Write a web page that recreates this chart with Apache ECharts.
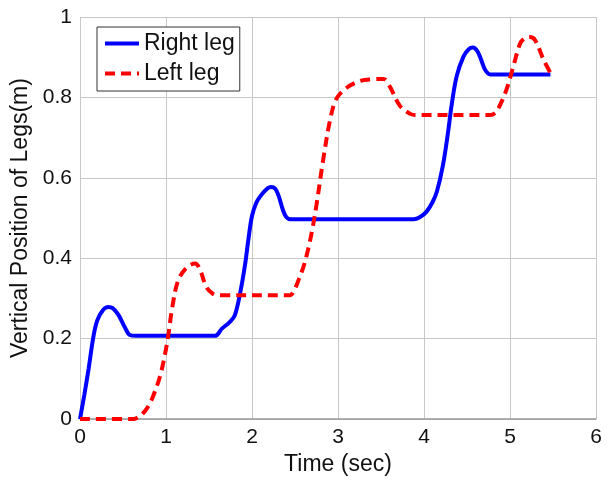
<!DOCTYPE html>
<html>
<head>
<meta charset="utf-8">
<script src="https://cdn.jsdelivr.net/npm/echarts@6/dist/echarts.min.js"></script>
<style>
  html, body { margin: 0; padding: 0; background: #fff; }
  #chart { width: 611px; height: 481px; }
</style>
</head>
<body>
<div id="chart"></div>
<script>
// Vertical foot trajectories over one gait sequence
const rightTime = [0, 0.05, 0.1, 0.155, 0.2, 0.27, 0.33, 0.38, 0.445, 0.52, 0.58, 0.65, 1.0, 1.57, 1.65, 1.74, 1.8, 1.86, 1.92, 1.96, 2.0, 2.05, 2.1, 2.16, 2.22, 2.27, 2.31, 2.36, 2.40, 2.45, 3.0, 3.88, 3.95, 4.03, 4.1, 4.15, 4.22, 4.28, 4.32, 4.38, 4.46, 4.52, 4.57, 4.62, 4.66, 4.71, 4.77, 5.0, 5.47];
const rightPos  = [0, 0.06, 0.125, 0.204, 0.245, 0.272, 0.279, 0.276, 0.26, 0.229, 0.209, 0.207, 0.207, 0.207, 0.225, 0.241, 0.258, 0.311, 0.385, 0.45, 0.505, 0.538, 0.555, 0.57, 0.577, 0.573, 0.555, 0.52, 0.502, 0.497, 0.497, 0.497, 0.502, 0.516, 0.54, 0.566, 0.631, 0.714, 0.779, 0.853, 0.902, 0.92, 0.924, 0.915, 0.896, 0.869, 0.857, 0.857, 0.857];

const leftTime = [0, 0.62, 0.68, 0.74, 0.8, 0.85, 0.93, 0.99, 1.03, 1.07, 1.14, 1.24, 1.34, 1.40, 1.47, 1.55, 1.6, 2.44, 2.49, 2.54, 2.6, 2.65, 2.7, 2.75, 2.83, 2.91, 2.98, 3.10, 3.26, 3.40, 3.53, 3.60, 3.72, 3.84, 3.9, 4.77, 4.83, 4.88, 4.96, 5.04, 5.12, 5.18, 5.23, 5.29, 5.39, 5.47];
const leftPos  = [0, 0, 0.005, 0.016, 0.034, 0.057, 0.106, 0.163, 0.213, 0.274, 0.344, 0.377, 0.387, 0.369, 0.328, 0.311, 0.308, 0.308, 0.32, 0.345, 0.38, 0.42, 0.47, 0.533, 0.648, 0.746, 0.796, 0.824, 0.841, 0.845, 0.846, 0.828, 0.779, 0.759, 0.756, 0.756, 0.762, 0.779, 0.820, 0.878, 0.935, 0.948, 0.950, 0.943, 0.894, 0.861];

const seriesNames = ['Right leg', 'Left leg'];
const xTitle = 'Time (sec)';
const yTitle = 'Vertical Position of Legs(m)';

const pairs = (xs, ys) => xs.map((x, i) => [x, ys[i]]);
const FONT = '"Liberation Sans", Arial, sans-serif';

const chart = echarts.init(document.getElementById('chart'), null, { renderer: 'canvas' });
chart.setOption({
  animation: false,
  backgroundColor: '#fff',
  textStyle: { fontFamily: FONT },
  grid: { left: 80, right: 15, top: 17, bottom: 58, containLabel: false },
  legend: {
    left: 97, top: 27,
    orient: 'vertical',
    itemWidth: 34, itemHeight: 14, itemGap: 7,
    padding: [5, 5, 6, 6],
    borderColor: '#333', borderWidth: 1,
    backgroundColor: '#fff',
    // hide the marker symbol so only the line sample remains
    itemStyle: { opacity: 0 },
    lineStyle: { width: 4 },
    textStyle: { fontFamily: FONT, fontSize: 23, color: '#111' },
    data: seriesNames
  },
  xAxis: {
    type: 'value', min: 0, max: 6, interval: 1,
    name: xTitle, nameLocation: 'middle', nameGap: 33,
    nameTextStyle: { fontFamily: FONT, fontSize: 23, color: '#111' },
    axisLine: { show: true, lineStyle: { color: '#999', width: 1.5 } },
    axisTick: { show: false },
    axisLabel: { fontFamily: FONT, fontSize: 21, color: '#111', margin: 8 },
    splitLine: { show: true, lineStyle: { color: '#c8c8c8', width: 1 } }
  },
  yAxis: {
    type: 'value', min: 0, max: 1, interval: 0.2,
    name: yTitle, nameLocation: 'middle', nameGap: 40,
    nameTextStyle: { fontFamily: FONT, fontSize: 23, color: '#111' },
    axisLine: { show: false },
    axisTick: { show: false },
    axisLabel: { fontFamily: FONT, fontSize: 21, color: '#111', margin: 8 },
    splitLine: { show: true, lineStyle: { color: '#c8c8c8', width: 1 } }
  },
  series: [
    {
      name: seriesNames[0], type: 'line', symbol: 'none', smooth: 0.35,
      data: pairs(rightTime, rightPos),
      lineStyle: { color: '#0000ff', width: 4 },
      itemStyle: { color: '#0000ff' },
      z: 3
    },
    {
      name: seriesNames[1], type: 'line', symbol: 'none', smooth: 0.35,
      data: pairs(leftTime, leftPos),
      lineStyle: { color: '#ff0000', width: 4, type: [10, 6] },
      itemStyle: { color: '#ff0000' },
      z: 4
    }
  ]
});
</script>
</body>
</html>
